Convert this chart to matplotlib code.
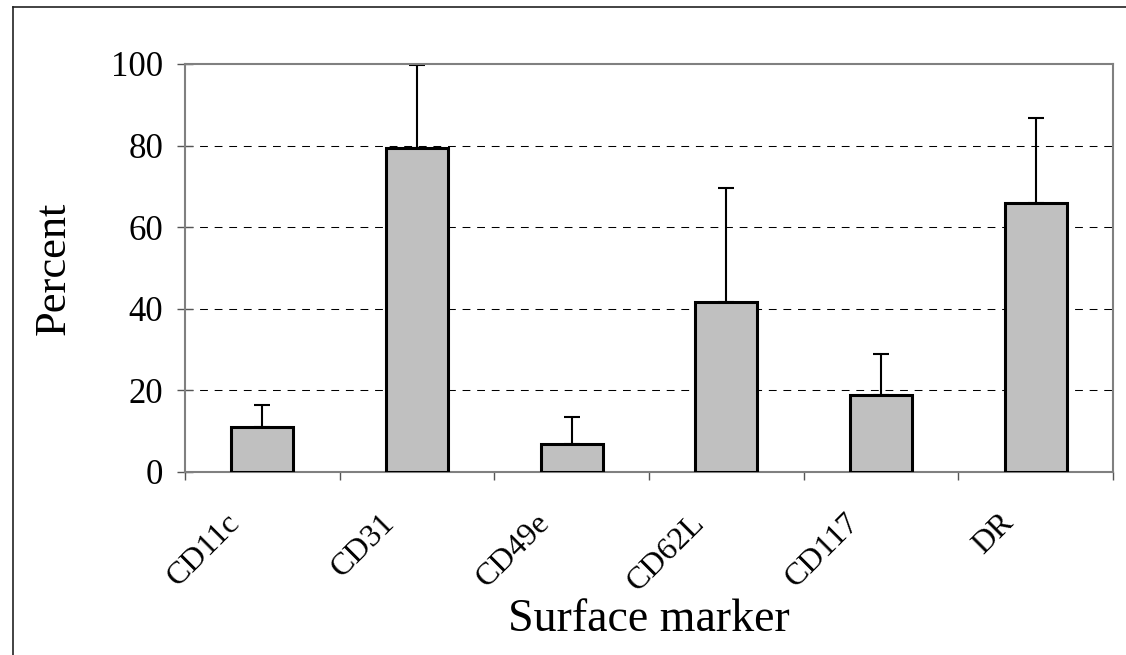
import matplotlib
matplotlib.use('Agg')
import matplotlib.pyplot as plt
from matplotlib.transforms import ScaledTranslation
from matplotlib.lines import Line2D

markers = ['CD11c', 'CD31', 'CD49e', 'CD62L', 'CD117', 'DR']
percent = [11.1, 79.3, 6.9, 41.6, 18.9, 65.9]
err_upper = [5.2, 20.4, 6.7, 28.1, 10.0, 20.9]
y_ticks = [0, 20, 40, 60, 80, 100]


def main():
    plt.rcParams['font.family'] = ['Liberation Serif', 'DejaVu Serif']

    fig = plt.figure(figsize=(11.26, 6.55), dpi=100)
    ax = fig.add_axes([185 / 1126, 1 - 472 / 655, 928 / 1126, 408 / 655])

    x = list(range(len(markers)))
    err_lower = [0 for v in percent]

    # error bars first so the bars hide the lower cap
    ax.errorbar(x, percent, yerr=[err_lower, err_upper], fmt='none',
                ecolor='black', elinewidth=1.5, capsize=5.5, capthick=1.5, zorder=2)
    ax.bar(x, percent, width=0.4, color='#c0c0c0', edgecolor='black',
           linewidth=2.2, zorder=3)

    ax.set_xlim(-0.5, len(markers) - 0.5)
    ax.set_ylim(0, 100)

    # grid
    ax.set_yticks(y_ticks)
    for t in y_ticks[1:-1]:
        ax.axhline(t, color='black', lw=0.75, dashes=(7.5, 6.5), zorder=1)

    # x: ticks on category borders, labels in the middle
    ax.set_xticks([i - 0.5 for i in range(len(markers) + 1)])
    ax.set_xticklabels([])
    ax.set_xticks(x, minor=True)
    ax.set_xticklabels(markers, minor=True, rotation=45, ha='right', va='top',
                       fontsize=23)
    ax.tick_params(axis='x', which='minor', length=0, pad=26)
    ax.tick_params(axis='x', which='major', length=6, width=1, color='#555555',
                   direction='out')
    for lab in ax.get_xticklabels(minor=True):
        lab.set_transform(lab.get_transform() + ScaledTranslation(-0.16, 0, fig.dpi_scale_trans))

    ax.tick_params(axis='y', labelsize=25, direction='inout', length=12,
                   width=1, color='#555555', pad=9.5)

    for s in ax.spines.values():
        s.set_color('#808080')
        s.set_linewidth(1.5)

    ax.set_ylabel('Percent', fontsize=32, va='center')
    ax.yaxis.set_label_coords(-0.142, 0.5)
    ax.set_xlabel('Surface marker', fontsize=33, va='center')
    ax.xaxis.set_label_coords(0.5, -0.363)

    # outer frame (left and top only)
    fig.add_artist(Line2D([13 / 1126, 13 / 1126], [0, 1 - 6.5 / 655],
                          transform=fig.transFigure, color='#222222', lw=1.2))
    fig.add_artist(Line2D([13 / 1126, 1], [1 - 6.5 / 655, 1 - 6.5 / 655],
                          transform=fig.transFigure, color='#222222', lw=1.2))

    plt.savefig('out.png', dpi=100)
    plt.clf()


if __name__ == "__main__":
    main()
